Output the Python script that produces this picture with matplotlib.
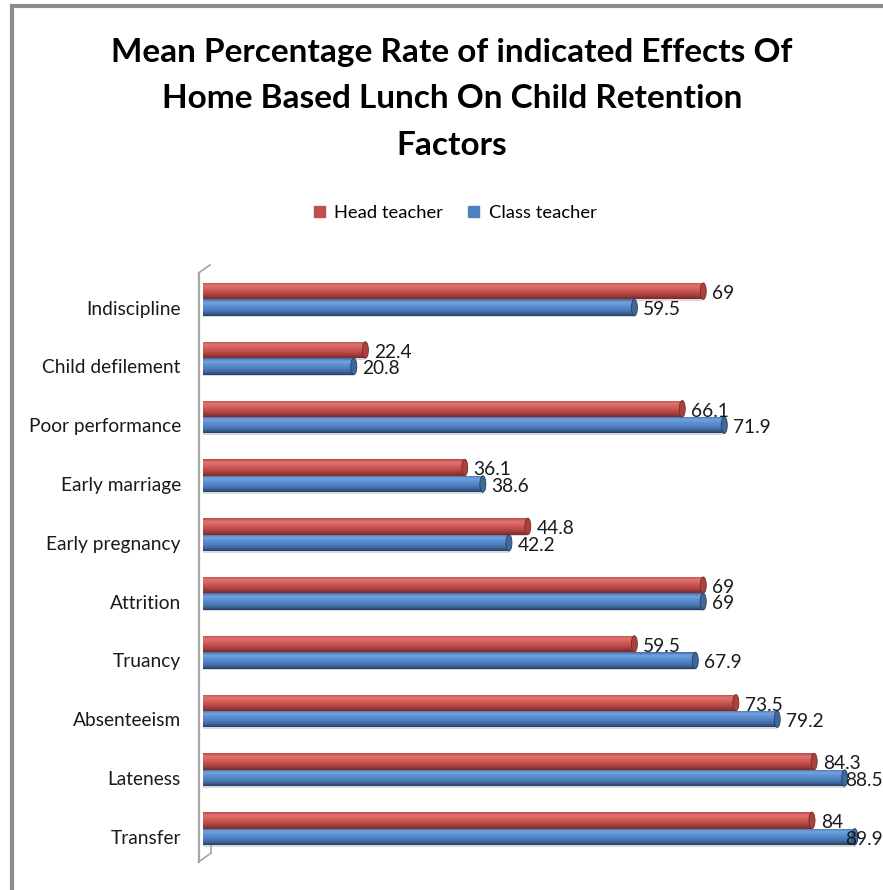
import numpy as np
import matplotlib
matplotlib.use("Agg")
import matplotlib.pyplot as plt
from matplotlib.lines import Line2D
from matplotlib.patches import Ellipse, Rectangle
from matplotlib.colors import LinearSegmentedColormap
from matplotlib.font_manager import FontProperties
from matplotlib.textpath import TextPath

plt.rcParams['font.family'] = ['Lato', 'DejaVu Sans']

title = "Mean Percentage Rate of indicated Effects Of\nHome Based Lunch On Child Retention\nFactors"
categories = ["Indiscipline", "Child defilement", "Poor performance", "Early marriage",
              "Early pregnancy", "Attrition", "Truancy", "Absenteeism", "Lateness", "Transfer"]
head_teacher = [69, 22.4, 66.1, 36.1, 44.8, 69, 59.5, 73.5, 84.3, 84]
class_teacher = [59.5, 20.8, 71.9, 38.6, 42.2, 69, 67.9, 79.2, 88.5, 89.9]
series_names = ["Head teacher", "Class teacher"]

W, H = 883, 890
DPI = 100


def text_px(text, size, weight="normal"):
    """Rendered width of `text` in pixels at the given font size."""
    fp = FontProperties(family="Lato", weight=weight, size=size)
    return TextPath((0, 0), text, prop=fp).get_extents().width * DPI / 72


def fit_size(text, target_px, weight="normal"):
    return 100 * target_px / text_px(text, 100, weight)


title_fs = fit_size("Mean Percentage Rate of indicated Effects Of", 680, "bold")
label_fs = fit_size("Poor performance", 150)
legend_fs = fit_size("Head teacher", 107)

fig = plt.figure(figsize=(W / DPI, H / DPI), dpi=DPI)
fig.patch.set_facecolor("white")

# chart frame (top and left edges)
frame_col = "#8c8c8c"
fig.add_artist(Line2D([11.5 / W, 11.5 / W], [1 - 5 / H, 0], transform=fig.transFigure,
                      color=frame_col, lw=3, solid_capstyle="butt"))
fig.add_artist(Line2D([10 / W, 1], [1 - 5.5 / H, 1 - 5.5 / H], transform=fig.transFigure,
                      color=frame_col, lw=3, solid_capstyle="butt"))

left_px, right_px = 203, 883
top_px, bot_px = 270, 858
px_per_unit = 7.25
ax = fig.add_axes([left_px / W, 1 - bot_px / H, (right_px - left_px) / W, (bot_px - top_px) / H])
xmax = (right_px - left_px) / px_per_unit
n = len(categories)
ax.set_ylim(n - 0.5, -0.5)
for s in ax.spines.values():
    s.set_visible(False)
ax.set_xticks([])
ax.set_yticks(np.arange(n) + 0.14)
ax.set_yticklabels(categories, fontsize=label_fs, color="#1a1a1a")
ax.tick_params(axis="y", length=0, pad=16)

bh = 0.28
y = np.arange(n)

red_cmap = LinearSegmentedColormap.from_list(
    "red3d", ["#b84a47", "#e07470", "#d6605c", "#c0504d", "#a43e3b", "#7a2a28"])
blue_cmap = LinearSegmentedColormap.from_list(
    "blue3d", ["#3f6fa8", "#74a3de", "#5c90d2", "#4f81bd", "#3e6aa0", "#253f63"])
grad = np.linspace(0, 1, 64).reshape(-1, 1)

cap_w = 6 / px_per_unit
label_limit = xmax - 2 / px_per_unit


def draw_series(vals, offset, cmap, cap_col, shade_col):
    bars = ax.barh(y + offset, vals, height=bh, color=cmap(0.5), edgecolor="none", zorder=2)
    for rect, v in zip(bars, vals):
        x0 = rect.get_x()
        y0 = rect.get_y()
        y1 = y0 + rect.get_height()
        # soft shadow below the cylinder
        ax.add_patch(Rectangle((x0, y1), v, 0.025, color="#d9d9d9", zorder=1, lw=0))
        im = ax.imshow(grad, cmap=cmap, aspect="auto", origin="upper",
                       extent=(x0, x0 + v, y1, y0), zorder=3, interpolation="bilinear")
        im.set_clip_path(rect)
        ax.add_patch(Ellipse((x0 + v, (y0 + y1) / 2), cap_w, rect.get_height(),
                             facecolor=cap_col, edgecolor=shade_col, lw=0.6, zorder=4))
        label = f"{v:g}"
        lx = x0 + v + 1.2
        wdata = text_px(label, label_fs) / px_per_unit
        if lx + wdata > label_limit:
            # keep the label inside the plot area, as the chart tool does
            lx = label_limit - wdata
        ax.text(lx, (y0 + y1) / 2 + 0.04, label, va="center", ha="left",
                fontsize=label_fs, color="#1a1a1a", zorder=5, clip_on=False)
    return bars


draw_series(head_teacher, -bh / 2, red_cmap, "#a8423f", "#7a2a28")
draw_series(class_teacher, bh / 2, blue_cmap, "#40699b", "#253f63")
ax.set_xlim(0, xmax)

# 3D wall edge at the value axis origin
wall = "#a6a6a6"
fig.add_artist(Line2D(np.array([198.5, 198.5]) / W, 1 - np.array([273, 862]) / H,
                      transform=fig.transFigure, color=wall, lw=1.6))
fig.add_artist(Line2D(np.array([198.5, 210]) / W, 1 - np.array([273, 265]) / H,
                      transform=fig.transFigure, color=wall, lw=1.2))
fig.add_artist(Line2D(np.array([198.5, 211]) / W, 1 - np.array([862, 853]) / H,
                      transform=fig.transFigure, color=wall, lw=1.2))
fig.add_artist(Line2D(np.array([211, 211]) / W, 1 - np.array([853, 846]) / H,
                      transform=fig.transFigure, color=wall, lw=1.2))

fig.text(452 / W, 1 - 99 / H, title, ha="center", va="center", fontsize=title_fs,
         fontweight="bold", linespacing=1.72, color="black")

handles = [Rectangle((0, 0), 1, 1, color="#c0504d"), Rectangle((0, 0), 1, 1, color="#4f81bd")]
fig.legend(handles, series_names, loc="center", bbox_to_anchor=(455 / W, 1 - 213 / H),
           ncol=2, frameon=False, fontsize=legend_fs, handlelength=0.6, handleheight=0.6,
           handletextpad=0.5, columnspacing=1.4)

fig.savefig("out.png", dpi=DPI, facecolor="white")
